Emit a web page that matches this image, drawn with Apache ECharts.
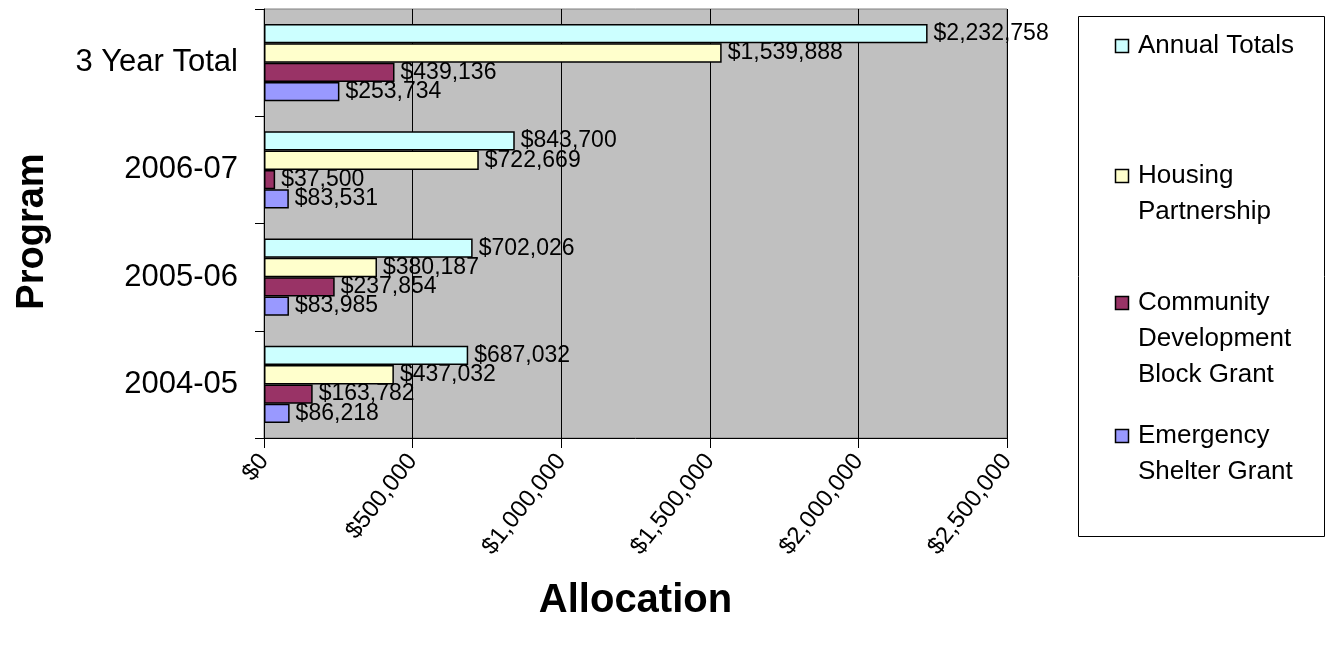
<!DOCTYPE html>
<html>
<head>
<meta charset="utf-8">
<title>Program Allocation</title>
<script src="https://cdn.jsdelivr.net/npm/echarts@6/dist/echarts.min.js"></script>
<style>
  html, body { margin: 0; padding: 0; background: #ffffff; }
  #chart { width: 1326px; height: 646px; }
</style>
</head>
<body>
<div id="chart"></div>
<script>
// Program years, bottom to top on the category axis
const categories = ['2004-05', '2005-06', '2006-07', '3 Year Total'];

// Allocation per program, in dollars
const annualTotals = [687032, 702026, 843700, 2232758];
const housingPartnership = [437032, 380187, 722669, 1539888];
const communityDevelopment = [163782, 237854, 37500, 439136];
const emergencyShelter = [86218, 83985, 83531, 253734];

// Value-axis ticks
const axisMin = 0;
const axisMax = 2500000;
const axisStep = 500000;

const seriesNames = ['Annual Totals', 'Housing Partnership', 'Community Development Block Grant', 'Emergency Shelter Grant'];
const legendLines = [['Annual Totals'], ['Housing', 'Partnership'], ['Community', 'Development', 'Block Grant'], ['Emergency', 'Shelter Grant']];
const seriesColors = ['#CCFFFF', '#FFFFCC', '#993366', '#9999FF'];
const seriesValues = [annualTotals, housingPartnership, communityDevelopment, emergencyShelter];

const FONT = '"Liberation Sans", Arial, Helvetica, sans-serif';
const money = v => '$' + Number(v).toLocaleString('en-US');

const chart = echarts.init(document.getElementById('chart'), null, { renderer: 'canvas' });

// Upper bars in each group stack above the labels of the bars beneath them
const series = seriesNames.map((name, i) => ({
  name: name,
  type: 'bar',
  z: 5 - i,
  data: seriesValues[i],
  barGap: '0%',
  barCategoryGap: '28%',
  itemStyle: { color: seriesColors[i], borderColor: '#000000', borderWidth: 1.5 },
  label: {
    show: true,
    position: 'right',
    distance: 6,
    color: '#000000',
    fontFamily: FONT,
    fontSize: 23,
    formatter: p => money(p.value)
  },
  emphasis: { disabled: true }
}));

// Legend box with entries, first text line aligned with the swatch
const legendTop = [46, 176, 303, 436];
const legendLineHeight = 36;
const legendGraphics = [{
  type: 'rect',
  shape: { x: 1078.5, y: 16.5, width: 246, height: 520 },
  style: { fill: '#ffffff', stroke: '#000000', lineWidth: 1 },
  z: 10
}];
legendLines.forEach((lines, i) => {
  legendGraphics.push({
    type: 'rect',
    shape: { x: 1115.5, y: legendTop[i] - 6.5, width: 13, height: 13 },
    style: { fill: seriesColors[i], stroke: '#000000', lineWidth: 1.5 },
    z: 11
  });
  lines.forEach((line, j) => {
    legendGraphics.push({
      type: 'text',
      x: 1138,
      y: legendTop[i] + j * legendLineHeight,
      style: {
        text: line,
        font: '26px ' + FONT,
        fill: '#000000',
        textAlign: 'left',
        textVerticalAlign: 'middle'
      },
      z: 11
    });
  });
});

chart.setOption({
  animation: false,
  backgroundColor: '#ffffff',
  textStyle: { fontFamily: FONT },
  grid: {
    left: 264, right: 319, top: 9, bottom: 208,
    show: true,
    backgroundColor: '#C0C0C0',
    borderColor: '#808080',
    borderWidth: 1
  },
  xAxis: {
    type: 'value',
    min: axisMin,
    max: axisMax,
    interval: axisStep,
    name: 'Allocation',
    nameLocation: 'middle',
    nameGap: 143,
    nameTextStyle: { fontFamily: FONT, fontSize: 40, fontWeight: 'bold', color: '#000000' },
    axisLine: { show: true, lineStyle: { color: '#000000', width: 1 } },
    axisTick: { show: true, length: 10, lineStyle: { color: '#000000' } },
    splitLine: { show: true, lineStyle: { color: '#000000', width: 1 } },
    axisLabel: {
      rotate: 52,
      margin: 19,
      color: '#000000',
      fontFamily: FONT,
      fontSize: 24,
      formatter: v => money(v)
    }
  },
  yAxis: {
    type: 'category',
    data: categories,
    name: 'Program',
    nameLocation: 'middle',
    nameRotate: 90,
    nameGap: 212,
    nameTextStyle: { fontFamily: FONT, fontSize: 38, fontWeight: 'bold', color: '#000000', padding: [0, 16, 0, 0] },
    axisLine: { show: true, lineStyle: { color: '#000000', width: 1 } },
    axisTick: { show: true, length: 9, lineStyle: { color: '#000000' } },
    axisLabel: { margin: 26, color: '#000000', fontFamily: FONT, fontSize: 31 }
  },
  series: series,
  graphic: legendGraphics
});
</script>
</body>
</html>
